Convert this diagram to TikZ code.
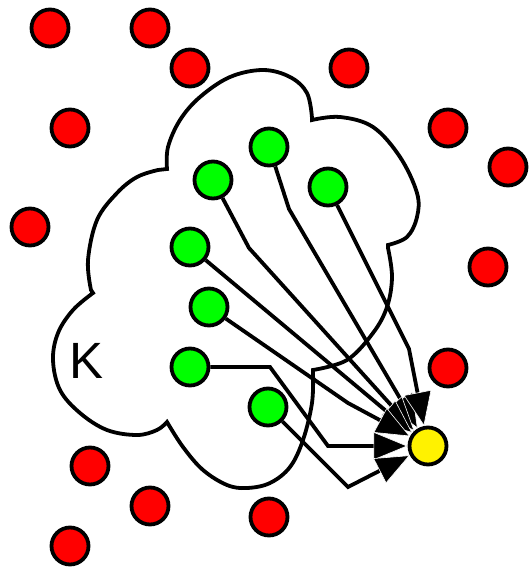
\documentclass[tikz,border=0pt]{standalone}
\usepackage{fontspec}
\setmainfont{Liberation Sans}
\usetikzlibrary{arrows.meta}
\begin{document}
\begin{tikzpicture}[x=1pt,y=-1pt,
  dot/.style={circle,draw=black,line width=3.8pt,minimum size=37pt,inner sep=0pt},
  reddot/.style={dot,fill=red},
  greendot/.style={dot,fill=green},
  yellowdot/.style={dot,fill=yellow},
  conn/.style={line width=3.8pt,-{Triangle[length=34pt,width=28pt,line width=0.6pt,color=white,fill=black]}},
  cloudline/.style={line width=3.8pt,line join=miter}]
\useasboundingbox (0,0) rectangle (528,568);
% red dots
\node[reddot] (r1) at (50,28) {};
\node[reddot] (r2) at (150,28) {};
\node[reddot] (r3) at (190,68) {};
\node[reddot] (r4) at (349,68) {};
\node[reddot] (r5) at (70,128) {};
\node[reddot] (r6) at (448,128) {};
\node[reddot] (r7) at (508,167) {};
\node[reddot] (r8) at (30,227) {};
\node[reddot] (r9) at (488,267) {};
\node[reddot] (r10) at (448,368) {};
\node[reddot] (r11) at (90,466) {};
\node[reddot] (r12) at (150,506) {};
\node[reddot] (r13) at (269,517) {};
\node[reddot] (r14) at (70,546) {};
% cloud
\draw[cloudline]
  plot[smooth,tension=0.6] coordinates {(167,169) (168,147) (180,120) (200,97) (230,77) (263,70) (290,77) (307,93) (312,118)}
  -- plot[smooth,tension=0.6] coordinates {(312,120) (340,117) (373,127) (400,157) (417,193) (417,217) (407,237) (388,245)}
  -- plot[smooth,tension=0.6] coordinates {(388,248) (392,277) (387,307) (373,333) (347,360) (313,370)}
  -- plot[smooth,tension=0.6] coordinates {(313,372) (312,403) (303,440) (290,467) (270,483) (247,488) (227,485) (203,470) (183,447) (167,422)}
  -- plot[smooth,tension=0.6] coordinates {(167,422) (157,430) (137,435) (107,430) (80,413) (60,390) (53,360) (58,333) (73,310) (93,293)}
  -- plot[smooth,tension=0.6] coordinates {(91,290) (88,260) (97,220) (117,193) (137,177) (158,170)}
  -- cycle;
\node (k) at (87,361) {\fontsize{51}{51}\selectfont K};
% green dots
\node[greendot] (g1) at (269,147) {};
\node[greendot] (g2) at (213,180) {};
\node[greendot] (g3) at (328,187) {};
\node[greendot] (g4) at (190,247) {};
\node[greendot] (g5) at (209,307) {};
\node[greendot] (g6) at (190,367) {};
\node[greendot] (g7) at (268,407) {};
% yellow
\node[yellowdot] (y) at (428,446) {};
% bend points
\coordinate (b1) at (289,209);
\coordinate (b2) at (249,248);
\coordinate (b3) at (409,349);
\coordinate (b5) at (348,403);
\coordinate (b6a) at (270,367);
\coordinate (b6b) at (328,446);
\coordinate (b7) at (348,487);
% connectors
\draw[conn] (g1) -- (b1) -- (y);
\draw[conn] (g2) -- (b2) -- (y);
\draw[conn] (g3) -- (b3) -- (y);
\draw[conn] (g4) -- (y);
\draw[conn] (g5) -- (b5) -- (y);
\draw[conn] (g6) -- (b6a) -- (b6b) -- (y);
\draw[conn] (g7) -- (b7) -- (y);
\end{tikzpicture}
\end{document}
